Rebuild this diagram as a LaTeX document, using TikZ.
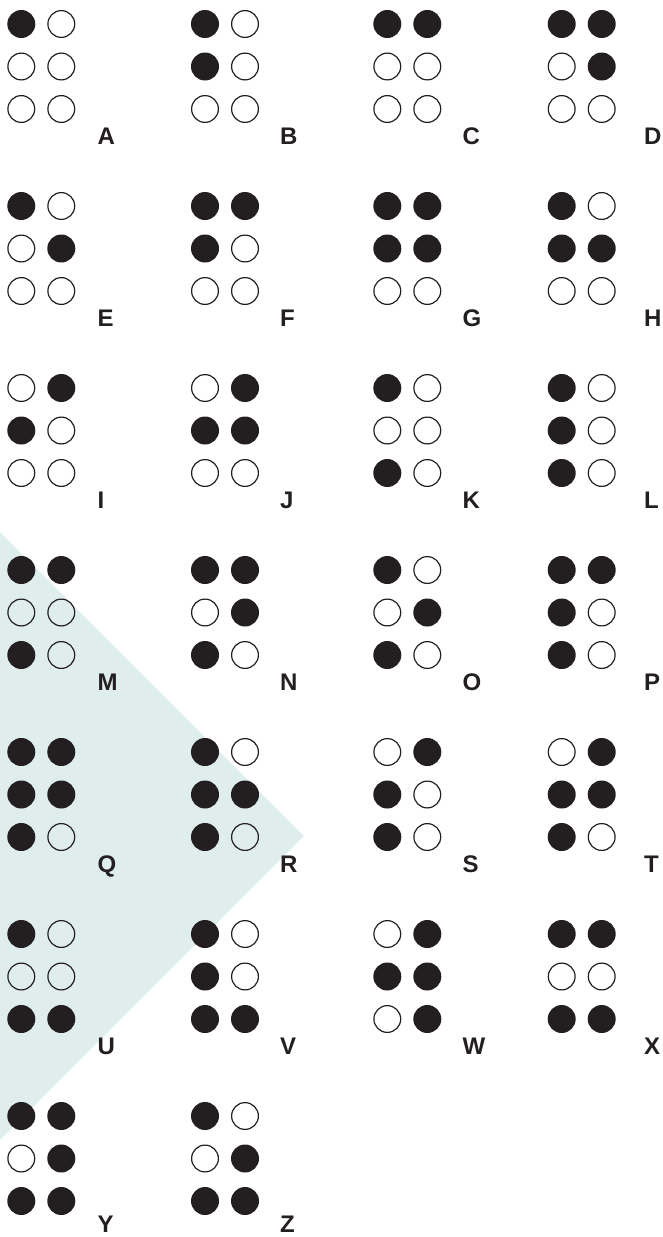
\documentclass[tikz,border=0pt]{standalone}
\usepackage{fontspec}
\setmainfont{Liberation Sans}
\definecolor{ink}{HTML}{231F20}
\definecolor{bgteal}{HTML}{DFEEED}
\tikzset{
  fd/.style={circle,fill=ink,draw=none,minimum size=28pt,inner sep=0pt},
  ed/.style={circle,draw=ink,fill=none,line width=1.2pt,minimum size=26.8pt,inner sep=0pt},
  lab/.style={anchor=base west,inner sep=0pt,font=\fontsize{24}{24}\selectfont\bfseries,text=ink}
}
\begin{document}
\begin{tikzpicture}[x=1pt,y=-1pt]
\useasboundingbox (0,0) rectangle (663,1237);
\fill[bgteal] (0,532) -- (304,836) -- (0,1140) -- cycle;
\foreach \L/\xd/\xl/\y/\pa/\pb/\pc/\pd/\pe/\pf in {
  A/21.3/97.5/24/fd/ed/ed/ed/ed/ed,
  B/205/280/24/fd/fd/ed/ed/ed/ed,
  C/387.3/462.5/24/fd/ed/ed/fd/ed/ed,
  D/561.7/644/24/fd/ed/ed/fd/fd/ed,
  E/21.3/97.5/206/fd/ed/ed/ed/fd/ed,
  F/205/280/206/fd/fd/ed/fd/ed/ed,
  G/387.3/462.5/206/fd/fd/ed/fd/fd/ed,
  H/561.7/644/206/fd/fd/ed/ed/fd/ed,
  I/21.3/97.5/388/ed/fd/ed/fd/ed/ed,
  J/205/280/388/ed/fd/ed/fd/fd/ed,
  K/387.3/462.5/388/fd/ed/fd/ed/ed/ed,
  L/561.7/644/388/fd/fd/fd/ed/ed/ed,
  M/21.3/97.5/570/fd/ed/fd/fd/ed/ed,
  N/205/280/570/fd/ed/fd/fd/fd/ed,
  O/387.3/462.5/570/fd/ed/fd/ed/fd/ed,
  P/561.7/644/570/fd/fd/fd/fd/ed/ed,
  Q/21.3/97.5/752/fd/fd/fd/fd/fd/ed,
  R/205/280/752/fd/fd/fd/ed/fd/ed,
  S/387.3/462.5/752/ed/fd/fd/fd/ed/ed,
  T/561.7/644/752/ed/fd/fd/fd/fd/ed,
  U/21.3/97.5/934/fd/ed/fd/ed/ed/fd,
  V/205/280/934/fd/fd/fd/ed/ed/fd,
  W/387.3/462.5/934/ed/fd/ed/fd/fd/fd,
  X/561.7/644/934/fd/ed/fd/fd/ed/fd,
  Y/21.3/97.5/1116/fd/ed/fd/fd/fd/fd,
  Z/205/280/1116/fd/ed/fd/ed/fd/fd}
{
  \node[\pa] (\L1) at (\xd,\y) {};
  \node[\pb] (\L2) at (\xd,\y+42.5) {};
  \node[\pc] (\L3) at (\xd,\y+85) {};
  \node[\pd] (\L4) at (\xd+40,\y) {};
  \node[\pe] (\L5) at (\xd+40,\y+42.5) {};
  \node[\pf] (\L6) at (\xd+40,\y+85) {};
  \node[lab] (\L-lab) at (\xl,{min(\y+120,1232)}) {\L};
}
\end{tikzpicture}
\end{document}
